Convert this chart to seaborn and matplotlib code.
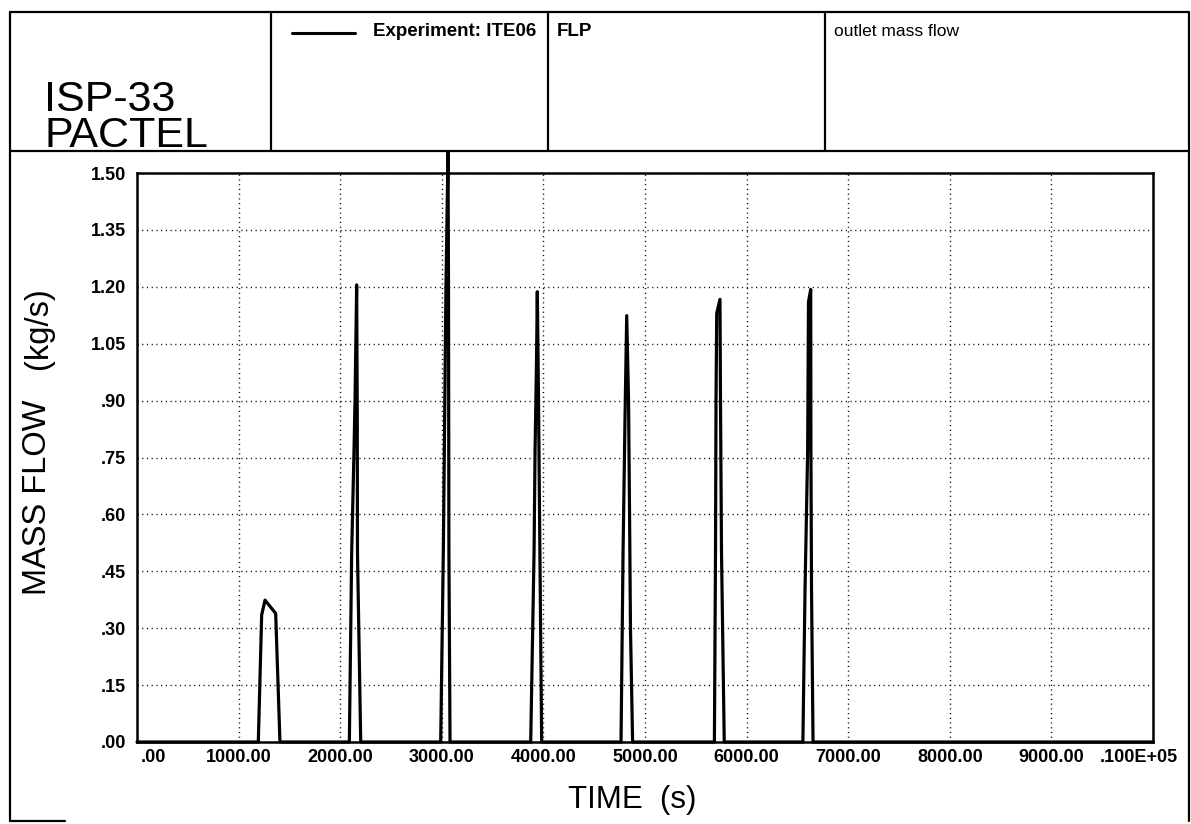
import numpy as np
import pandas as pd
import seaborn as sns
import matplotlib.pyplot as plt
from matplotlib.lines import Line2D
from matplotlib.transforms import ScaledTranslation

# Outlet mass flow, experiment ITE06 (time in s, flow in kg/s)
time_s = [
    0,
    1194, 1227, 1260, 1365, 1407,
    2090, 2113, 2136, 2146, 2162, 2168, 2170, 2202,
    2989, 3015, 3041, 3061, 3066, 3070, 3081,
    3875, 3908, 3918, 3932, 3940, 3952, 3962, 3983,
    4764, 4784, 4803, 4820, 4838, 4848, 4857, 4878,
    5683, 5694, 5699, 5706, 5738, 5743, 5753, 5780,
    6554, 6575, 6601, 6609, 6631, 6633, 6639, 6654,
    10000,
]
flow_kgs = [
    0.0,
    0.0, 0.335, 0.374, 0.339, 0.0,
    0.0, 0.50, 0.77, 0.90, 1.205, 0.85, 0.50, 0.0,
    0.0, 0.50, 1.20, 1.555, 1.20, 0.50, 0.0,
    0.0, 0.50, 0.77, 1.00, 1.187, 0.90, 0.60, 0.0,
    0.0, 0.50, 0.85, 1.124, 0.90, 0.60, 0.30, 0.0,
    0.0, 0.50, 0.90, 1.130, 1.167, 0.90, 0.50, 0.0,
    0.0, 0.40, 0.77, 1.160, 1.193, 0.77, 0.40, 0.0,
    0.0,
]

x_ticks = [0, 1000, 2000, 3000, 4000, 5000, 6000, 7000, 8000, 9000, 10000]
x_tick_labels = [".00", "1000.00", "2000.00", "3000.00", "4000.00", "5000.00",
                 "6000.00", "7000.00", "8000.00", "9000.00", ".100E+05"]
y_ticks = [0.0, 0.15, 0.30, 0.45, 0.60, 0.75, 0.90, 1.05, 1.20, 1.35, 1.50]
y_tick_labels = [".00", ".15", ".30", ".45", ".60", ".75", ".90",
                 "1.05", "1.20", "1.35", "1.50"]

sns.set_theme(style="white")
plt.rcParams["font.family"] = ["Liberation Sans", "DejaVu Sans"]

W, H = 1191, 824
fig = plt.figure(figsize=(W / 100, H / 100), dpi=100)
fig.patch.set_facecolor("white")


def fx(px):
    return px / W


def fy(py):
    return 1 - py / H


# Plot area
ax = fig.add_axes([fx(137), fy(742), fx(1153) - fx(137), fy(173) - fy(742)])
df = pd.DataFrame({"time": time_s, "flow": flow_kgs})
sns.lineplot(data=df, x="time", y="flow", ax=ax, color="black",
             linewidth=2.3, sort=False, estimator=None)
ax.lines[-1].set_clip_on(False)
ax.lines[-1].set_zorder(5)

ax.set_xlim(0, 10000)
ax.set_ylim(0, 1.5)
ax.set_xticks(x_ticks)
ax.set_xticklabels(x_tick_labels, fontsize=13, fontweight="bold")
ax.set_yticks(y_ticks)
ax.set_yticklabels(y_tick_labels, fontsize=13, fontweight="bold")
ax.set_xlabel("")
ax.set_ylabel("")
ax.tick_params(axis="both", length=0, colors="black")
ax.tick_params(axis="x", pad=5)
ax.tick_params(axis="y", pad=8)

# Nudge the first and last time labels as in the plotting package layout
xl = ax.get_xticklabels()
xl[0].set_transform(xl[0].get_transform() + ScaledTranslation(16 / 100, 0, fig.dpi_scale_trans))
xl[-1].set_transform(xl[-1].get_transform() + ScaledTranslation(-14 / 100, 0, fig.dpi_scale_trans))

ax.grid(True, color="black", linestyle=(0, (0.8, 2.6)), linewidth=1.0)
ax.set_axisbelow(True)
for sp in ax.spines.values():
    sp.set_visible(True)
    sp.set_color("black")
    sp.set_linewidth(1.8)

# Axis titles
fig.text(fx(38), fy(497), "MASS FLOW", rotation=90, fontsize=23.5,
         ha="center", va="center", color="black")
fig.text(fx(38), fy(328), "(kg/s)", rotation=90, fontsize=23.5,
         ha="center", va="center", color="black")
fig.text(fx(568), fy(800), "TIME  (s)", fontsize=22.5, ha="left",
         va="center", color="black")

# Title block frame
lw_frame = 1.6
frame_segments = [
    ((10, 12), (1189, 12)),
    ((10, 151), (1189, 151)),
    ((10, 12), (10, 821)),
    ((1189, 12), (1189, 821)),
    ((271, 12), (271, 151)),
    ((548, 12), (548, 151)),
    ((825, 12), (825, 151)),
    ((10, 821), (65, 821)),
]
for (x0, y0), (x1, y1) in frame_segments:
    fig.add_artist(Line2D([fx(x0), fx(x1)], [fy(y0), fy(y1)],
                          transform=fig.transFigure, color="black",
                          linewidth=lw_frame))

# Title block contents
fig.text(fx(44), fy(147), "ISP-33\nPACTEL", fontsize=31, ha="left",
         va="baseline", color="black", linespacing=0.88)

fig.add_artist(Line2D([fx(292), fx(355)], [fy(33), fy(33)],
                      transform=fig.transFigure, color="black", linewidth=2.2))
fig.text(fx(373), fy(31), "Experiment: ITE06", fontsize=13.5,
         fontweight="bold", ha="left", va="center", color="black")
fig.text(fx(557), fy(31), "FLP", fontsize=13.5, fontweight="bold",
         ha="left", va="center", color="black")
fig.text(fx(834), fy(31), "outlet mass flow", fontsize=12.5, ha="left",
         va="center", color="black")

fig.savefig("out.png", dpi=100, facecolor="white")
